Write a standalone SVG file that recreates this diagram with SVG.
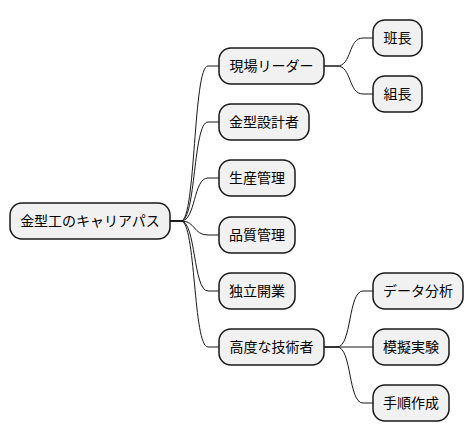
<svg xmlns="http://www.w3.org/2000/svg" width="474" height="443" viewBox="0 0 474 443">
<style>
rect.n{fill:#F1F1F1;stroke:#181818;stroke-width:1.5}
text{font-family:"Noto Sans CJK JP","Noto Sans",sans-serif;font-size:14px;fill:#000;text-anchor:middle}
.c path{fill:none;stroke:#181818;stroke-width:1}
</style>
<rect width="474" height="443" fill="#fff"/>
<g class="c" id="connectors">
<path d="M170,221 L181,221 C196,221 193,66 208,66 L219,66"/>
<path d="M170,221 L181,221 C196,221 193,122 208,122 L219,122"/>
<path d="M170,221 L181,221 C196,221 193,178 208,178 L219,178"/>
<path d="M170,221 L181,221 C196,221 193,235 208,235 L219,235"/>
<path d="M170,221 L181,221 C196,221 193,291 208,291 L219,291"/>
<path d="M170,221 L181,221 C196,221 193,347 208,347 L219,347"/>
<path d="M324,66 L337,66 C352,66 348,38 363,38 L373,38"/>
<path d="M324,66 L337,66 C352,66 348,94 363,94 L373,94"/>
<path d="M324,347 L337,347 C352,347 348,291 363,291 L373,291"/>
<path d="M324,347 L363,347 L373,347"/>
<path d="M324,347 L337,347 C352,347 348,403 363,403 L373,403"/>
</g>
<g id="root"><rect class="n" x="10" y="203" width="160" height="36" rx="12"/><text x="90" y="226">金型工のキャリアパス</text></g>
<g id="genba"><rect class="n" x="219" y="48" width="105" height="36" rx="12"/><text x="271.5" y="71">現場リーダー</text></g>
<g id="kanagata"><rect class="n" x="219" y="104" width="90" height="36" rx="12"/><text x="264" y="127">金型設計者</text></g>
<g id="seisan"><rect class="n" x="219" y="160" width="76" height="36" rx="12"/><text x="257" y="183">生産管理</text></g>
<g id="hinshitsu"><rect class="n" x="219" y="217" width="76" height="36" rx="12"/><text x="257" y="240">品質管理</text></g>
<g id="dokuritsu"><rect class="n" x="219" y="273" width="76" height="36" rx="12"/><text x="257" y="296">独立開業</text></g>
<g id="koudo"><rect class="n" x="219" y="329" width="105" height="36" rx="12"/><text x="271.5" y="352">高度な技術者</text></g>
<g id="hancho"><rect class="n" x="373" y="20" width="49" height="36" rx="12"/><text x="397.5" y="43">班長</text></g>
<g id="kumicho"><rect class="n" x="373" y="76" width="49" height="36" rx="12"/><text x="397.5" y="99">組長</text></g>
<g id="data"><rect class="n" x="373" y="273" width="90" height="36" rx="12"/><text x="418" y="296">データ分析</text></g>
<g id="mogi"><rect class="n" x="373" y="329" width="76" height="36" rx="12"/><text x="411" y="352">模擬実験</text></g>
<g id="tejun"><rect class="n" x="373" y="385" width="76" height="36" rx="12"/><text x="411" y="408">手順作成</text></g>
</svg>
